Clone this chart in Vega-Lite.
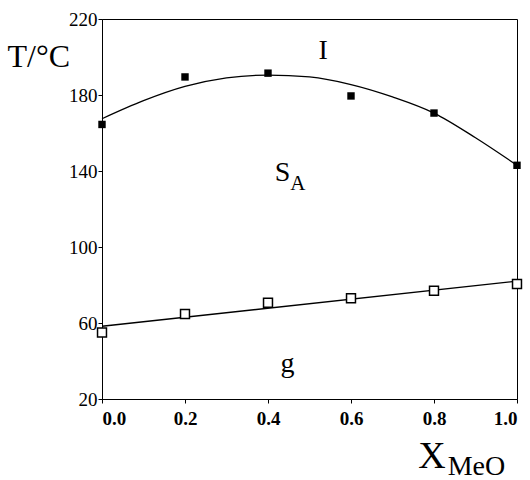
{
  "$schema": "https://vega.github.io/schema/vega-lite/v6.json",
  "width": 415,
  "height": 380,
  "autosize": "none",
  "padding": {"left": 102, "top": 19, "right": 13, "bottom": 81},
  "background": "white",
  "config": {
    "view": {"stroke": "black", "strokeWidth": 1},
    "font": "Liberation Serif"
  },
  "datasets": {
    "iso": [
      {"x": 0.0, "T": 164.5},
      {"x": 0.2, "T": 189.5},
      {"x": 0.4, "T": 191.5},
      {"x": 0.6, "T": 179.5},
      {"x": 0.8, "T": 170.5},
      {"x": 1.0, "T": 143}
    ],
    "isoFit": [
      {"x": 0.0, "T": 167.5},
      {"x": 0.1, "T": 177},
      {"x": 0.2, "T": 184.5},
      {"x": 0.3, "T": 189},
      {"x": 0.4, "T": 190.5},
      {"x": 0.5, "T": 189.5},
      {"x": 0.6, "T": 185.5},
      {"x": 0.7, "T": 179},
      {"x": 0.8, "T": 170.5},
      {"x": 0.9, "T": 157.5},
      {"x": 1.0, "T": 143}
    ],
    "glass": [
      {"x": 0.0, "T": 55},
      {"x": 0.2, "T": 64.7},
      {"x": 0.4, "T": 70.7},
      {"x": 0.6, "T": 73},
      {"x": 0.8, "T": 77},
      {"x": 1.0, "T": 80.5}
    ],
    "glassFit": [
      {"x": 0.0, "T": 58.3},
      {"x": 1.0, "T": 82}
    ]
  },
  "encoding": {
    "x": {"field": "x", "type": "quantitative", "scale": {"domain": [0, 1], "nice": false, "zero": false}},
    "y": {"field": "T", "type": "quantitative", "scale": {"domain": [20, 220], "nice": false, "zero": false}}
  },
  "layer": [
    {
      "data": {"name": "isoFit"},
      "mark": {"type": "line", "color": "black", "strokeWidth": 1.3, "interpolate": "monotone"},
      "encoding": {
        "x": {"field": "x", "type": "quantitative", "axis": {
          "values": [0, 0.2, 0.4, 0.6, 0.8, 1.0], "format": ".1f", "grid": false,
          "domainColor": "black", "tickColor": "black", "labelColor": "black",
          "labelFont": "Liberation Serif", "labelFontWeight": "bold", "labelFontSize": 19,
          "tickSize": 4, "labelPadding": 6, "title": null
        }},
        "y": {"field": "T", "type": "quantitative", "axis": {
          "values": [20, 60, 100, 140, 180, 220], "grid": false,
          "domainColor": "black", "tickColor": "black", "labelColor": "black",
          "labelFont": "Liberation Serif", "labelFontSize": 19, "tickSize": 4, "labelPadding": 1,
          "title": "T/°C", "titleAngle": 0, "titleAlign": "left", "titleBaseline": "alphabetic",
          "titleX": -95, "titleY": 47, "titleFont": "Liberation Serif", "titleFontSize": 32,
          "titleFontWeight": "normal", "titleColor": "black"
        }}
      }
    },
    {
      "data": {"name": "iso"},
      "mark": {"type": "square", "color": "black", "filled": true, "size": 55, "opacity": 1}
    },
    {
      "data": {"name": "glassFit"},
      "mark": {"type": "line", "color": "black", "strokeWidth": 1.3}
    },
    {
      "data": {"name": "glass"},
      "mark": {"type": "square", "fill": "white", "stroke": "black", "strokeWidth": 1.5, "size": 80, "opacity": 1}
    },
    {
      "data": {"values": [{"x": 0.533, "T": 199, "label": "I"}, {"x": 0.447, "T": 34, "label": "g"}, {"x": 0.435, "T": 135, "label": "S"}]},
      "mark": {"type": "text", "font": "Liberation Serif", "fontSize": 28, "color": "black", "align": "center", "baseline": "alphabetic"},
      "encoding": {"text": {"field": "label"}}
    },
    {
      "data": {"values": [{"x": 0.472, "T": 130, "label": "A"}]},
      "mark": {"type": "text", "font": "Liberation Serif", "fontSize": 21, "color": "black", "align": "center", "baseline": "alphabetic"},
      "encoding": {"text": {"field": "label"}}
    },
    {
      "data": {"values": [{"x": 0.795, "T": -16.5, "label": "X"}]},
      "mark": {"type": "text", "font": "Liberation Serif", "fontSize": 38, "color": "black", "align": "center", "baseline": "alphabetic"},
      "encoding": {"text": {"field": "label"}}
    },
    {
      "data": {"values": [{"x": 0.833, "T": -20, "label": "MeO"}]},
      "mark": {"type": "text", "font": "Liberation Serif", "fontSize": 28, "color": "black", "align": "left", "baseline": "alphabetic"},
      "encoding": {"text": {"field": "label"}}
    }
  ]
}
